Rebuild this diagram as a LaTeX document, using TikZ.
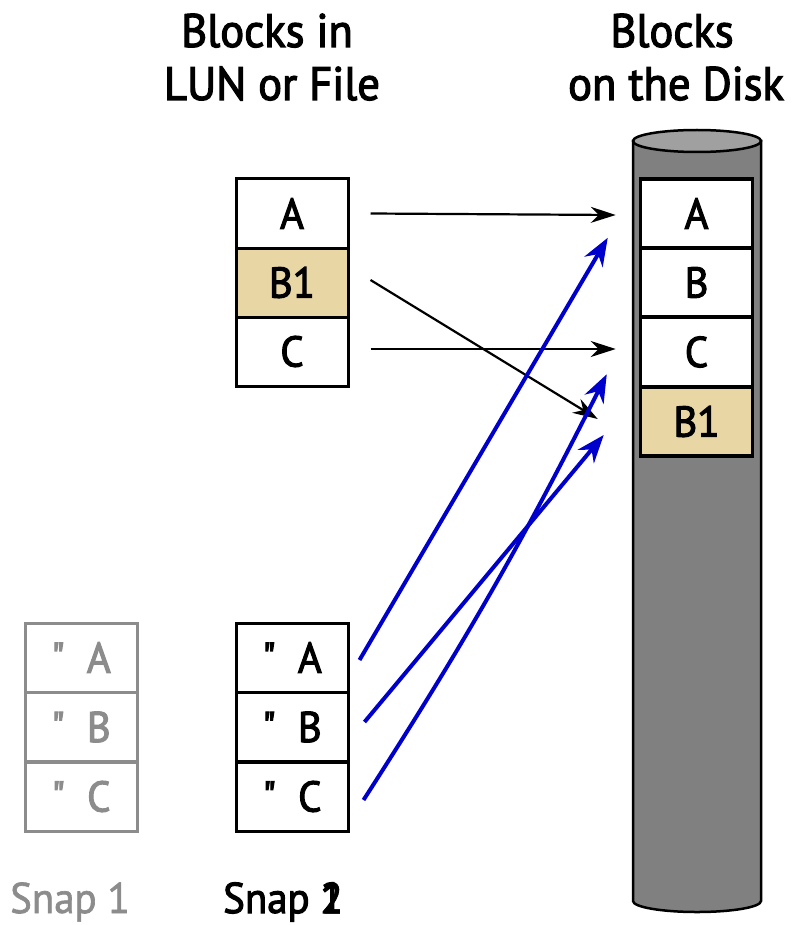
\documentclass[tikz,border=0pt]{standalone}
\usepackage{fontspec}
\setmainfont{PT Sans}[FakeStretch=0.95,Ligatures=TeXOff]
\newfontfamily\medfont{PT Sans}[FakeStretch=0.95,FakeBold=2.5,Ligatures=TeXOff]
\newfontfamily\lightmedfont{PT Sans}[FakeStretch=0.95,FakeBold=1.5,Ligatures=TeXOff]
\usetikzlibrary{arrows.meta}
\definecolor{beige}{RGB}{232,215,165}
\definecolor{snapgray}{RGB}{140,140,140}
\definecolor{arrowblue}{RGB}{0,0,204}
\definecolor{diskgray}{RGB}{128,128,128}
\definecolor{disktop}{RGB}{160,160,160}
\tikzset{
  blk/.style={draw=black, line width=3pt, fill=white, minimum width=112pt, minimum height=69pt, inner sep=0pt, font=\medfont\fontsize{43}{43}\selectfont},
  dblk/.style={blk, line width=3.5pt},
  sblk/.style={blk, draw=snapgray, text=snapgray},
  title/.style={inner sep=0pt, anchor=base, font=\medfont\fontsize{47}{47}\selectfont},
  snaplbl/.style={font=\medfont\fontsize{43}{43}\selectfont, inner sep=0pt, anchor=base},
  blackarrow/.style={line width=2.2pt, -{Stealth[length=25pt,width=16pt,inset=8pt]}},
  bluearrow/.style={draw=arrowblue, line width=4pt, -{Stealth[length=28pt,width=21pt,inset=9pt]}, color=arrowblue},
}
\begin{document}
\begin{tikzpicture}[x=1pt,y=-1pt]
\useasboundingbox (0,0) rectangle (794,925);
% titles
\node[title] (t1a) at (267,47) {Blocks in};
\node[title] (t1b) at (272,100) {LUN or File};
\node[title] (t2a) at (672,47) {Blocks};
\node[title] (t2b) at (676,100) {on the Disk};
% disk cylinder
\path[draw=black, line width=2.5pt, fill=diskgray] (633,141) -- (633,901) arc[start angle=180, end angle=360, x radius=64pt, y radius=11pt] -- (761,141) -- cycle;
\draw[line width=2.5pt, fill=disktop] (697,141) ellipse[x radius=64pt, y radius=11pt];
% LUN blocks
\node[blk] (lA) at (292,213.5) {A};
\node[blk, fill=beige] (lB) at (292,282.5) {B1};
\node[blk] (lC) at (292,351.5) {C};
% disk blocks
\node[dblk] (dA) at (696.5,213.5) {A};
\node[dblk] (dB) at (696.5,282.5) {B};
\node[dblk] (dC) at (696.5,352) {C};
\node[dblk, fill=beige] (dB1) at (696.5,421.5) {B1};
% snap 1
\node[sblk] (pA) at (81,657.5) {"\hspace{22pt}A};
\node[sblk] (pB) at (81,727) {"\hspace{22pt}B};
\node[sblk] (pC) at (81,796.5) {"\hspace{22pt}C};
% snap 2
\node[blk] (sA) at (292,657.5) {"\hspace{22pt}A};
\node[blk] (sB) at (292,727) {"\hspace{22pt}B};
\node[blk] (sC) at (292,796.5) {"\hspace{22pt}C};
% labels
\node[snaplbl, text=snapgray, font=\lightmedfont\fontsize{43}{43}\selectfont] (l1) at (70,913) {Snap 1};
\node[snaplbl] (l2) at (283,913) {Snap \rlap{1}2};
% black arrows
\draw[blackarrow] ([xshift=21pt]lA.east) -- ([xshift=-23pt,yshift=-1.5pt]dA.west);
\draw[blackarrow] ([xshift=21pt,yshift=2.5pt]lB.east) -- ([xshift=-41pt,yshift=2.5pt]dB1.west);
\draw[blackarrow] ([xshift=21pt,yshift=2.5pt]lC.east) -- ([xshift=-23pt,yshift=3pt]dC.west);
% blue arrows
\draw[bluearrow] ([xshift=10pt,yshift=-2.5pt]sA.east) -- ([xshift=-31pt,yshift=12pt]dA.south west);
\draw[bluearrow] ([xshift=15pt,yshift=5pt]sB.east) -- ([xshift=-35pt,yshift=-13.5pt]dB1.west);
\draw[bluearrow] ([xshift=14pt,yshift=-3.5pt]sC.east) to[bend right=3] ([xshift=-32pt,yshift=14pt]dC.south west);
\end{tikzpicture}
\end{document}
